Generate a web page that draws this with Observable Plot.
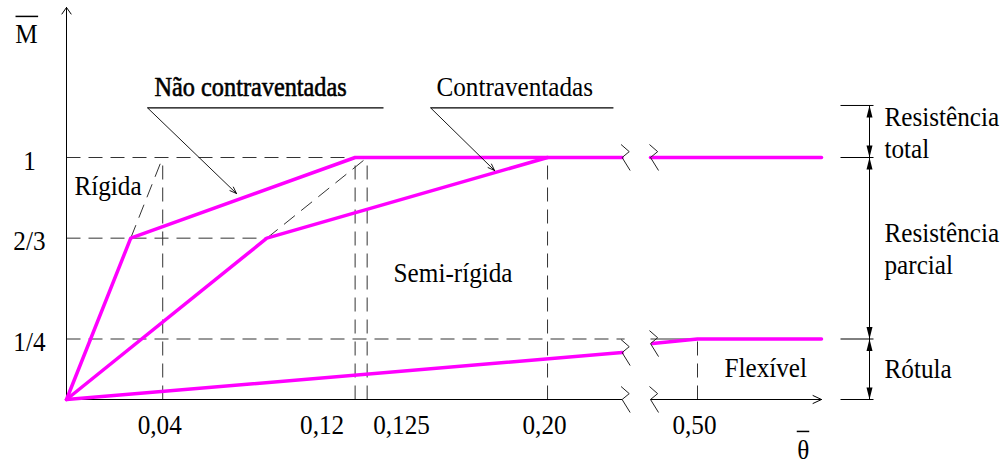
<!DOCTYPE html>
<html><head><meta charset="utf-8">
<script src="https://cdn.jsdelivr.net/npm/d3@7"></script>
<script src="https://cdn.jsdelivr.net/npm/@observablehq/plot@0.6"></script>
<style>body{margin:0;background:#fff}</style>
</head><body><div id="chart"></div>
<script>
// ---- data (diagram units: theta-bar on x, M-bar on y) ----
const unbracedTheta = [0, 0.0267, 0.12, 0.231];
const unbracedM = [0, 2/3, 1, 1];
const bracedTheta = [0, 0.0833, 0.20];
const bracedM = [0, 2/3, 1];
const flexLeftTheta = [0, 0.231];
const flexLeftM = [0, 0.194];
const topRightTheta = [0.406, 0.748];
const topRightM = [1, 1];
const flexRightTheta = [0.41, 0.5, 0.748];
const flexRightM = [0.231, 0.25, 0.25];

const mTicks = [1, 2/3, 1/4];
const mTickLabels = ["1", "2/3", "1/4"];
const thetaTicks = [0.04, 0.12, 0.125, 0.20, 0.50];
const thetaTickLabels = ["0,04", "0,12", "0,125", "0,20", "0,50"];
const thetaTickTops = [1, 1, 1, 1, 0.25];

const breakLo = 0.231, breakHi = 0.406, axisEnd = 0.748, yAxisEnd = 1.62;
const breakLevelsLo = [1, 0.194, 0];
const breakLevelsHi = [1, 0.231, 0];

const dimX = 0.844, dimTick1 = 0.786, dimTick2 = 0.852;
const dimLevels = [1.215, 1, 0.25, 0];

// ---- scales (broken x axis) ----
const xDomain = [-0.03, 0.232, 0.40, 1.114];
const xRange = [66 - 0.03 * 2405, 624, 647, 1004];

const serif = "Liberation Serif, Times New Roman, serif";
const ink = "#000", dash = "#333", magenta = "#ff00ff";

const pts = (xs, ys) => xs.map((x, i) => ({x, y: ys[i]}));

const hDashed = [
  {x1: 0, x2: 0.12, y: 1},
  {x1: 0, x2: 0.0833, y: 2/3},
  {x1: 0, x2: 0.233, y: 0.25}
];
const vDashed = thetaTicks.map((t, i) => ({x: t, y1: 0, y2: thetaTickTops[i]}));
const diagDashed = [
  {x1: 0.0267, y1: 2/3, x2: 0.04, y2: 1},
  {x1: 0.0833, y1: 2/3, x2: 0.125, y2: 1}
];
const breaks = [
  ...breakLevelsLo.map(y => ({x: breakLo, y})),
  ...breakLevelsHi.map(y => ({x: breakHi, y}))
];

// custom symbols
const zig = {draw(c, size) { const r = Math.sqrt(size / Math.PI);
  c.moveTo(-0.08 * r, -r); c.lineTo(0.55 * r, -0.45 * r); c.lineTo(0, 0); c.lineTo(0.62 * r, r); }};
const spikeUp = {draw(c, size) { const r = Math.sqrt(size / Math.PI);
  c.moveTo(0, 0); c.lineTo(-0.25 * r, r); c.lineTo(0.25 * r, r); c.closePath(); }};
const spikeDown = {draw(c, size) { const r = Math.sqrt(size / Math.PI);
  c.moveTo(0, 0); c.lineTo(-0.25 * r, -r); c.lineTo(0.25 * r, -r); c.closePath(); }};

const dimSegs = d3.pairs(dimLevels);
const upTips = dimSegs.map(([a]) => ({x: dimX, y: a}));
const downTips = dimSegs.map(([, b]) => ({x: dimX, y: b}));

const labels = [
  {text: "Rígida", x: 0.0033, y: 0.843},
  {text: "Semi-rígida", x: 0.136, y: 0.4835},
  {text: "Flexível", x: 0.554, y: 0.091},
  {text: "Contraventadas", x: 0.1538, y: 1.256},
  {text: "Resistência", x: 0.874, y: 1.132},
  {text: "total", x: 0.874, y: 1.0},
  {text: "Resistência", x: 0.874, y: 0.649},
  {text: "parcial", x: 0.874, y: 0.52},
  {text: "Rótula", x: 0.874, y: 0.087}
];
const boldLabel = [{text: "Não contraventadas", x: 0.0366, y: 1.256}];
const leaders = [
  {x1: 0.0337, y1: 1.205, x2: 0.0707, y2: 0.851},
  {x1: 0.1514, y1: 1.205, x2: 0.178, y2: 0.946}
];
const underlines = [
  {x1: 0.0337, x2: 0.1318, y: 1.205},
  {x1: 0.1514, x2: 0.2274, y: 1.205}
];
const axisTitles = [
  {t: "M", x: -0.0166, y: 1.475, bx1: -0.0212, bx2: -0.0118, by: 1.583},
  {t: "\u03B8", x: 0.7115, y: -0.244, bx1: 0.6985, bx2: 0.7235, by: -0.132}
];
const mTickData = mTicks.map((v, i) => ({v, label: mTickLabels[i]}));
const tTickData = thetaTicks.map((v, i) => ({v, label: thetaTickLabels[i]}));
const tMid = tTickData.filter(d => [0.04, 0.20, 0.50].includes(d.v));
const tEnd = tTickData.filter(d => d.v === 0.12);
const tStart = tTickData.filter(d => d.v === 0.125);

const fs = 28;
const txt = {fontSize: fs, fontFamily: serif, fill: ink, lineAnchor: "bottom"};
const chart = Plot.plot({
  width: 1004, height: 464,
  marginTop: 0, marginRight: 0, marginBottom: 0, marginLeft: 0,
  style: {background: "#fff", fontFamily: serif},
  x: {type: "linear", domain: xDomain, range: xRange, axis: null},
  y: {type: "linear", domain: [0, 1], range: [399, 157], axis: null},
  marks: [
    // dashed guides
    Plot.link(hDashed, {x1: "x1", x2: "x2", y1: "y", y2: "y", stroke: dash, strokeWidth: 1, strokeDasharray: "14,8"}),
    Plot.link(vDashed, {x1: "x", x2: "x", y1: "y1", y2: "y2", stroke: dash, strokeWidth: 1, strokeDasharray: "14,8"}),
    Plot.link(diagDashed, {x1: "x1", y1: "y1", x2: "x2", y2: "y2", stroke: dash, strokeWidth: 1, strokeDasharray: "14,8"}),
    Plot.link([{x1: breakHi, x2: 0.5, y: 0.25}], {x1: "x1", x2: "x2", y1: "y", y2: "y", stroke: dash, strokeWidth: 1}),
    // axes
    Plot.arrow([{x1: 0, y1: 0, x2: 0, y2: yAxisEnd}], {x1: "x1", y1: "y1", x2: "x2", y2: "y2", stroke: ink, strokeWidth: 1, headLength: 12, headAngle: 70}),
    Plot.link([{x1: 0, x2: breakLo}], {x1: "x1", x2: "x2", y1: 0, y2: 0, stroke: ink, strokeWidth: 1}),
    Plot.arrow([{x1: breakHi, x2: axisEnd}], {x1: "x1", x2: "x2", y1: 0, y2: 0, stroke: ink, strokeWidth: 1, headLength: 14, headAngle: 50}),
    // curves
    Plot.line(pts(flexLeftTheta, flexLeftM), {x: "x", y: "y", stroke: magenta, strokeWidth: 3.5}),
    Plot.line(pts(flexRightTheta, flexRightM), {x: "x", y: "y", stroke: magenta, strokeWidth: 3.5}),
    Plot.line(pts(bracedTheta, bracedM), {x: "x", y: "y", stroke: magenta, strokeWidth: 3.5}),
    Plot.line(pts(unbracedTheta, unbracedM), {x: "x", y: "y", stroke: magenta, strokeWidth: 3.5}),
    Plot.line(pts(topRightTheta, topRightM), {x: "x", y: "y", stroke: magenta, strokeWidth: 3.5}),
    // breaks
    Plot.dot(breaks, {x: "x", y: "y", symbol: zig, r: 13, fill: "none", stroke: "#222", strokeWidth: 1}),
    // leaders
    Plot.link(underlines, {x1: "x1", x2: "x2", y1: "y", y2: "y", stroke: ink, strokeWidth: 1.3}),
    Plot.arrow(leaders, {x1: "x1", y1: "y1", x2: "x2", y2: "y2", stroke: ink, strokeWidth: 0.9, headLength: 12, headAngle: 40}),
    // dimension lines
    Plot.link([{y1: dimLevels[0], y2: dimLevels[dimLevels.length - 1]}], {x1: dimX, x2: dimX, y1: "y1", y2: "y2", stroke: ink, strokeWidth: 1}),
    Plot.link(dimLevels.map(y => ({y})), {x1: dimTick1, x2: dimTick2, y1: "y", y2: "y", stroke: ink, strokeWidth: 1}),
    Plot.dot(upTips, {x: "x", y: "y", symbol: spikeUp, r: 12, fill: ink, stroke: "none"}),
    Plot.dot(downTips, {x: "x", y: "y", symbol: spikeDown, r: 12, fill: ink, stroke: "none"}),
    // tick labels
    Plot.text(mTickData, {x: -0.0154, y: "v", text: "label", dy: 12, textAnchor: "middle", ...txt}),
    Plot.text(tMid, {x: "v", y: -0.1405, text: "label", dx: -3, textAnchor: "middle", ...txt}),
    Plot.text(tEnd, {x: "v", y: -0.1405, text: "label", dx: -11, textAnchor: "end", ...txt}),
    Plot.text(tStart, {x: "v", y: -0.1405, text: "label", dx: 6, textAnchor: "start", ...txt}),
    // axis titles (letter + bar)
    Plot.text(axisTitles, {x: "x", y: "y", text: "t", textAnchor: "middle", ...txt}),
    Plot.link(axisTitles, {x1: "bx1", x2: "bx2", y1: "by", y2: "by", stroke: ink, strokeWidth: 1.5}),
    // annotations
    Plot.text(labels, {x: "x", y: "y", text: "text", textAnchor: "start", ...txt}),
    Plot.text(boldLabel, {x: "x", y: "y", text: "text", textAnchor: "start", ...txt, fontSize: 27, stroke: ink, strokeWidth: 0.6})
  ]
});
// narrow the serif face slightly, like the reference lettering
chart.querySelectorAll("text").forEach(t => {
  const tr = t.getAttribute("transform") || "";
  t.setAttribute("transform", tr + " scale(0.9,1)");
});
document.getElementById("chart").appendChild(chart);
</script>
</body></html>
